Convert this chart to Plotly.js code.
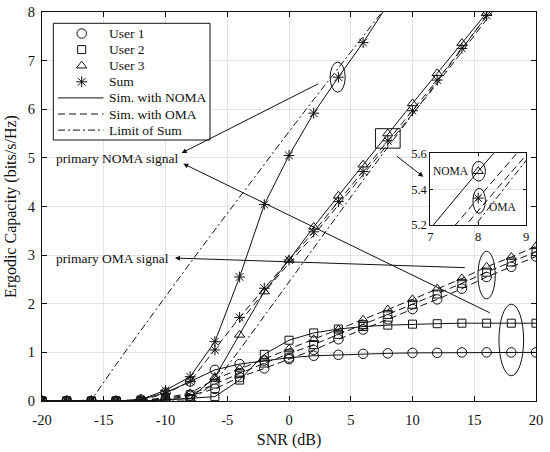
<!DOCTYPE html>
<html><head><meta charset="utf-8">
<script src="https://cdn.plot.ly/plotly-3.0.1.min.js"></script>
<style>html,body{margin:0;padding:0;background:#fff}#chart{width:550px;height:452px}</style>
</head><body><div id="chart"></div>
<script>
// ---- data ----
const snr = [-20,-18,-16,-14,-12,-10,-8,-6,-4,-2,0,2,4,6,8,10,12,14,16,18,20];
const nomaUser1 = [0,0,0,0,0.03,0.17,0.40,0.64,0.76,0.83,0.89,0.93,0.95,0.97,0.98,0.99,0.99,1.0,1.0,1.0,1.0];
const nomaUser2 = [0,0,0,0,0,0.02,0.05,0.09,0.43,0.96,1.25,1.40,1.48,1.53,1.56,1.58,1.59,1.6,1.6,1.6,1.6];
const nomaUser3 = [0,0,0,0,0,0.03,0.05,0.49,1.36,2.25,2.90,3.58,4.22,4.86,5.50,6.12,6.74,7.36,7.98,8.6,9.22];
const nomaSum   = [0,0,0,0,0.03,0.22,0.50,1.22,2.55,4.04,5.05,5.92,6.66,7.37,8.15,8.7,9.3,9.96,10.58,11.2,11.82];
const omaUser1  = [0,0,0,0,0,0.03,0.11,0.25,0.49,0.67,0.86,1.05,1.27,1.47,1.68,1.89,2.09,2.31,2.55,2.76,2.97];
const omaUser2  = [0,0,0,0,0,0.05,0.13,0.35,0.57,0.78,0.97,1.16,1.37,1.57,1.78,1.99,2.20,2.42,2.65,2.86,3.07];
const omaUser3  = [0,0,0,0,0.01,0.07,0.16,0.45,0.66,0.87,1.07,1.27,1.47,1.67,1.88,2.09,2.31,2.52,2.76,2.96,3.18];
const omaSum    = [0,0,0,0,0.02,0.15,0.40,1.05,1.72,2.32,2.90,3.48,4.10,4.72,5.35,5.97,6.60,7.25,7.93,8.58,9.22];
const omaSumSimSnr = [-4,-2,0,2,4,6,8,10,12,14,16,18];
const omaSumSim    = [1.62,2.24,2.83,3.41,4.03,4.65,5.28,5.90,6.53,7.18,7.86,8.52];
const limitNomaSnr = [-20,-18,-16,-14,-12,-10,-8,-6,-4,-2,0,2,4,6,8];
const limitNoma    = [0,0,0.02,0.75,1.45,2.15,2.84,3.52,4.20,4.87,5.54,6.20,6.85,7.50,8.15];
const limitOmaSnr  = [-20,-18,-16,-14,-12,-10,-8,-6,-4,-2,0,2,4,6,8,10,12,14,16,18];
const limitOma     = [0,0,0,0,0,0,0,0.38,1.05,1.75,2.45,3.15,3.85,4.54,5.22,5.90,6.57,7.24,7.91,8.58];

const xTickVals = [-20,-15,-10,-5,0,5,10,15,20];
const xTickText = ['-20','-15','-10','-5','0','5','10','15','20'];
const yTickVals = [0,1,2,3,4,5,6,7,8];
const insetXTicks = [7,8,9];
const insetYTicks = [5.2,5.4,5.6];
const legendLabels = ['User 1','User 2','User 3','Sum','Sim. with NOMA','Sim. with OMA','Limit of Sum'];

// ---- styling ----
const FONT = 'Liberation Serif, Times New Roman, serif';
const INK = '#111';
const DASH = '7px,4px';
const DASHDOT = '7px,3px,2px,3px';
const SYM = {u1:['circle-open',9.5], u2:['square-open',8], u3:['triangle-up-open',9], sum:['asterisk-open',9]};

const L = 42, R = 536, T = 12, B = 401;
const X = px => -20 + (px - L) / (R - L) * 40;
const Y = py => (B - py) / (B - T) * 8;

function tr(x, y, sym, dash, ax) {
  const t = {x:x, y:y, type:'scatter', mode: sym ? 'lines+markers' : 'lines',
    line:{color:INK, width:1, dash:dash}, xaxis:ax[0], yaxis:ax[1], hoverinfo:'skip'};
  if (sym) t.marker = {symbol:SYM[sym][0], size:SYM[sym][1], color:INK, line:{color:INK, width:1}};
  return t;
}
function allTraces(ax) {
  return [
    tr(limitNomaSnr, limitNoma, null, DASHDOT, ax),
    tr(limitOmaSnr, limitOma, null, DASHDOT, ax),
    tr(omaSumSimSnr, omaSumSim, null, DASH, ax),
    tr(snr, omaUser1, 'u1', DASH, ax),
    tr(snr, omaUser2, 'u2', DASH, ax),
    tr(snr, omaUser3, 'u3', DASH, ax),
    tr(snr, omaSum, 'sum', DASH, ax),
    tr(snr, nomaUser1, 'u1', 'solid', ax),
    tr(snr, nomaUser2, 'u2', 'solid', ax),
    tr(snr, nomaUser3, 'u3', 'solid', ax),
    tr(snr, nomaSum, 'sum', 'solid', ax)
  ];
}

// legend (drawn manually to match compact row spacing)
const rowPy = i => 33.5 + i * 16.1;
const legendTraces = ['u1','u2','u3','sum'].map((s,i) => ({
  x:[X(81.7)], y:[Y(rowPy(i))], type:'scatter', mode:'markers', hoverinfo:'skip',
  marker:{symbol:SYM[s][0], size:SYM[s][1], color:INK, line:{color:INK, width:1}}
}));

const shapes = [
  {type:'rect', xref:'x', yref:'y', x0:X(53.3), x1:X(210), y0:Y(140), y1:Y(23.3),
   line:{color:INK, width:1}, fillcolor:'#fff', layer:'between'},
  ...[['solid',4],[DASH,5],[DASHDOT,6]].map(([d,i]) => ({type:'line', xref:'x', yref:'y',
    x0:X(58), x1:X(103.5), y0:Y(rowPy(i)), y1:Y(rowPy(i)), line:{color:INK, width:1, dash:d}})),
  // ellipses and zoom rectangle in the main plot
  {type:'circle', xref:'x', yref:'y', x0:3.33, x1:4.55, y0:6.35, y1:6.97, line:{color:INK, width:1}},
  {type:'circle', xref:'x', yref:'y', x0:15.3, x1:16.7, y0:2.1, y1:3.08, line:{color:INK, width:1}},
  {type:'circle', xref:'x', yref:'y', x0:17.0, x1:19.0, y0:0.52, y1:1.99, line:{color:INK, width:1}},
  {type:'rect', xref:'x', yref:'y', x0:7, x1:9, y0:5.2, y1:5.6, line:{color:INK, width:1}},
  // ellipses in the inset
  {type:'circle', xref:'x2', yref:'y2', x0:7.87, x1:8.15, y0:5.445, y1:5.555, line:{color:INK, width:1}},
  {type:'circle', xref:'x2', yref:'y2', x0:7.89, x1:8.15, y0:5.265, y1:5.405, line:{color:INK, width:1}}
];

function arrow(hx, hy, tx, ty) {
  return {x:hx, y:hy, ax:tx, ay:ty, xref:'x', yref:'y', axref:'x', ayref:'y', text:' ',
    showarrow:true, arrowhead:2, arrowsize:1, arrowwidth:1, arrowcolor:INK, standoff:0, startstandoff:0};
}
const annotations = [
  ...legendLabels.map((t,i) => ({x:X(107), y:Y(rowPy(i)), xref:'x', yref:'y', text:t, showarrow:false,
    xanchor:'left', yanchor:'middle', font:{family:FONT, size:13.5, color:INK}})),
  {x:-19.0, y:4.98, xref:'x', yref:'y', text:'primary NOMA signal', showarrow:false, xanchor:'left', yanchor:'middle',
   font:{family:FONT, size:13.5, color:INK}},
  {x:-19.0, y:2.94, xref:'x', yref:'y', text:'primary OMA signal', showarrow:false, xanchor:'left', yanchor:'middle',
   font:{family:FONT, size:13.5, color:INK}},
  arrow(-8.69, 5.10, 2.65, 6.56),
  arrow(-8.56, 4.88, 16.54, 1.78),
  arrow(-9.23, 2.94, 14.52, 2.74),
  arrow(10.88, 4.61, 8.45, 5.09),
  {x:7.84, y:5.5, xref:'x2', yref:'y2', text:'NOMA', showarrow:false, xanchor:'right', yanchor:'middle',
   font:{family:FONT, size:11.5, color:INK}},
  {x:8.19, y:5.3, xref:'x2', yref:'y2', text:'OMA', showarrow:false, xanchor:'left', yanchor:'middle',
   font:{family:FONT, size:11.5, color:INK}}
];

const axisCommon = {ticks:'inside', ticklen:5, tickcolor:INK, showline:true, mirror:'ticks', linecolor:INK,
  linewidth:1, showgrid:true, gridcolor:'#e4e4e4', gridwidth:1, zeroline:false, fixedrange:true};

const layout = {
  width:550, height:452, margin:{l:L, r:550-R, t:T, b:452-B},
  paper_bgcolor:'white', plot_bgcolor:'#ffffff', showlegend:false,
  font:{family:FONT, size:14.5, color:INK},
  xaxis:Object.assign({}, axisCommon, {range:[-20,20], tickmode:'array', tickvals:xTickVals, ticktext:xTickText,
    tickfont:{size:14.5}, ticklabelstandoff:6, title:{text:'SNR (dB)', font:{size:16}, standoff:6}}),
  yaxis:Object.assign({}, axisCommon, {range:[0,8], tickmode:'array', tickvals:yTickVals,
    tickfont:{size:14.5}, ticklabelstandoff:3, title:{text:'Ergodic Capacity (bits/s/Hz)', font:{size:16}, standoff:7}}),
  xaxis2:Object.assign({}, axisCommon, {domain:[0.786,0.980], anchor:'y2', range:[7,9], tickmode:'array',
    tickvals:insetXTicks, tickfont:{size:12.5}, ticklen:3}),
  yaxis2:Object.assign({}, axisCommon, {domain:[0.4524,0.6368], anchor:'x2', range:[5.2,5.6], tickmode:'array',
    tickvals:insetYTicks, tickformat:'.1f', tickfont:{size:12.5}, ticklen:3}),
  shapes:shapes, annotations:annotations
};

const data = [...allTraces(['x','y']), ...legendTraces, ...allTraces(['x2','y2'])];
Plotly.newPlot('chart', data, layout, {staticPlot:true, displayModeBar:false});
</script></body></html>
